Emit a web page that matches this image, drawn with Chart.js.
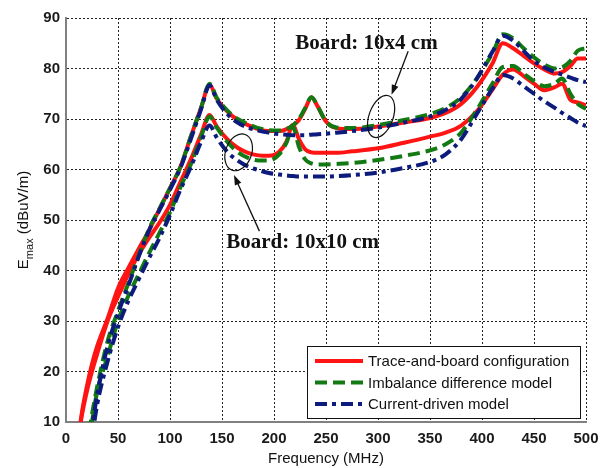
<!DOCTYPE html>
<html>
<head>
<meta charset="utf-8">
<script src="https://cdn.jsdelivr.net/npm/chart.js@4.4.1/dist/chart.umd.min.js"></script>
<style>
  html, body { margin: 0; padding: 0; background: #fff; }
  #wrap { width: 610px; height: 468px; }
</style>
</head>
<body>
<div id="wrap"><canvas id="emaxChart" width="610" height="468"></canvas></div>
<script>
// 주파수 (MHz)
const freq = [10, 15, 20, 25, 30, 40, 50, 60, 70, 80, 90, 100, 110, 120, 130, 138, 145, 155, 165, 175,
  185, 195, 205, 212, 218, 224, 230, 236, 242, 250, 260, 275, 300, 325, 350, 365, 380, 395, 410, 420,
  430, 440, 450, 460, 470, 477, 485, 492, 500];

// Board 10x4 cm
const traceBoard4 = [3, 11.5, 17, 21.5, 25, 30.5, 36.5, 40.5, 44.3, 48, 52.2, 56.3, 60.5, 66.5, 72.3, 76.8, 74, 71.5, 69.8, 68.8,
  68, 67.6, 67.6, 68, 68.7, 69.8, 72, 74.3, 72.5, 69.5, 68.2, 68, 68.5, 69.3, 70.2, 71.2, 73, 76.3, 81, 85,
  84, 82.5, 81, 79.8, 79, 79.3, 80.5, 82, 82];
const imbalance4 = [-6, 0, 5, 11.5, 17, 26, 32, 37.5, 43, 48.3, 52.3, 56.3, 60.5, 66.5, 72.3, 77, 74.2, 71.7, 70, 69,
  68.2, 67.8, 67.7, 68, 68.7, 70, 72.2, 74.3, 72.5, 69.5, 68.3, 68.2, 68.8, 69.8, 71, 72.2, 74.3, 78, 83, 86.8,
  86, 84, 82.2, 80.8, 80, 80.2, 81.5, 83.5, 84];
const current4 = [-8, -1, 3, 9, 15.5, 25, 31.5, 37, 42.8, 48, 52, 56, 60.3, 66, 72, 76.7, 73.8, 71, 69.3, 68.3,
  67.7, 67.3, 67, 66.9, 66.8, 66.8, 66.8, 66.9, 67, 67.1, 67.3, 67.6, 68.3, 69.3, 70.5, 71.8, 74, 78, 83.3, 86.5,
  85.5, 83.5, 81.5, 80.2, 79.3, 78.8, 78.2, 77.7, 77.3];

// Board 10x10 cm
const traceBoard10 = [4, 11, 16, 20, 23.5, 30, 34.8, 39.3, 43.2, 46.5, 49.5, 53, 57.5, 62, 67, 70.8, 68.5, 66, 64.3, 63.3,
  62.8, 62.7, 63.5, 65.5, 68.8, 66, 64, 63.4, 63.3, 63.3, 63.3, 63.6, 64.2, 65.3, 66.5, 67.3, 68.7, 71.5, 75.8, 78.8,
  79.8, 78.5, 77, 75.7, 76.3, 77, 73.8, 73.3, 72.7];
const imbalance10 = [-8, -2, 3, 10, 16, 23, 30, 35, 39.3, 43.5, 47.5, 51.5, 56.5, 61, 66.5, 70.5, 68.3, 65.5, 63.5, 62.3,
  61.8, 61.8, 63, 65.3, 68.5, 64.5, 62, 61.2, 61, 61, 61.1, 61.3, 61.9, 62.7, 63.8, 65, 67.3, 71.8, 77, 80.3,
  80.5, 79, 77.5, 76.5, 77, 78, 75, 73, 72];
const current10 = [-10, -4, 1, 7, 13.5, 22, 28.8, 34, 38.3, 42.5, 46.5, 51, 56, 60.5, 65.5, 68.7, 66.3, 63.5, 61.8, 60.6,
  59.9, 59.3, 59, 58.8, 58.7, 58.6, 58.6, 58.6, 58.6, 58.6, 58.7, 58.9, 59.4, 60.3, 61.5, 63, 66, 71, 76, 78.7,
  78, 76.5, 75, 73.5, 72.2, 71.2, 70.2, 69.3, 68.6];

const legendLabels = ['Trace-and-board configuration', 'Imbalance difference model', 'Current-driven model'];

// 선 스타일
const RED = '#ff1414';
const GREEN = '#137a13';
const BLUE = '#0c1b7c';
const DASH = [12, 6];
const DASH_DOT = [12, 5, 4, 5];

const toPoints = values => freq.map((f, i) => ({ x: f, y: values[i] }));

const lineSet = (label, values, color, dash, order) => ({
  label,
  data: toPoints(values),
  borderColor: color,
  borderDash: dash,
  borderWidth: 4,
  pointRadius: 0,
  cubicInterpolationMode: 'monotone',
  fill: false,
  order
});

// 주석, 범례, y축 제목
const notesPlugin = {
  id: 'boardNotes',
  afterDatasetsDraw(chart) {
    const { ctx, scales: { x, y } } = chart;

    const arrow = (x0, y0, x1, y1) => {
      const px0 = x.getPixelForValue(x0), py0 = y.getPixelForValue(y0);
      const px1 = x.getPixelForValue(x1), py1 = y.getPixelForValue(y1);
      const a = Math.atan2(py1 - py0, px1 - px0);
      ctx.save();
      ctx.strokeStyle = '#111';
      ctx.fillStyle = '#111';
      ctx.lineWidth = 1.3;
      ctx.beginPath();
      ctx.moveTo(px0, py0);
      ctx.lineTo(px1 - 6 * Math.cos(a), py1 - 6 * Math.sin(a));
      ctx.stroke();
      ctx.beginPath();
      ctx.moveTo(px1, py1);
      ctx.lineTo(px1 - 10 * Math.cos(a) + 3.5 * Math.sin(a), py1 - 10 * Math.sin(a) - 3.5 * Math.cos(a));
      ctx.lineTo(px1 - 10 * Math.cos(a) - 3.5 * Math.sin(a), py1 - 10 * Math.sin(a) + 3.5 * Math.cos(a));
      ctx.closePath();
      ctx.fill();
      ctx.restore();
    };

    const ring = (cx, cy, rx, ry, rot) => {
      ctx.save();
      ctx.strokeStyle = '#111';
      ctx.lineWidth = 1.2;
      ctx.beginPath();
      ctx.ellipse(x.getPixelForValue(cx), y.getPixelForValue(cy), rx, ry, rot, 0, Math.PI * 2);
      ctx.stroke();
      ctx.restore();
    };

    const note = (text, fx, fy) => {
      ctx.save();
      ctx.font = 'bold 21px "Liberation Serif", "Times New Roman", serif';
      ctx.fillStyle = '#111';
      ctx.textBaseline = 'alphabetic';
      ctx.fillText(text, x.getPixelForValue(fx), y.getPixelForValue(fy));
      ctx.restore();
    };

    note('Board: 10x4 cm', 220.5, 83.8);
    arrow(329, 83.4, 313, 74.8);
    ring(303, 70.5, 12, 22, 0.35);

    note('Board: 10x10 cm', 154, 44.4);
    arrow(186, 47.8, 161.5, 58.9);
    ring(166, 63.4, 13, 19, 0.35);

    // 범례
    const box = { left: 307, top: 346, width: 273, height: 72 };
    ctx.save();
    ctx.fillStyle = '#fff';
    ctx.fillRect(box.left, box.top, box.width, box.height);
    ctx.strokeStyle = '#111';
    ctx.lineWidth = 1;
    ctx.strokeRect(box.left + 0.5, box.top + 0.5, box.width, box.height);
    const sets = chart.data.datasets;
    legendLabels.forEach((label, i) => {
      const ds = sets[i];
      const ly = box.top + 15 + i * 21.5;
      ctx.strokeStyle = ds.borderColor;
      ctx.lineWidth = 4;
      ctx.setLineDash(ds.borderDash || []);
      ctx.beginPath();
      ctx.moveTo(box.left + 8, ly);
      ctx.lineTo(box.left + 56, ly);
      ctx.stroke();
      ctx.setLineDash([]);
      ctx.fillStyle = '#111';
      ctx.font = '15px "Liberation Sans", Arial, sans-serif';
      ctx.textBaseline = 'middle';
      ctx.fillText(label, box.left + 61, ly + 1);
    });
    ctx.restore();
  },
  afterDraw(chart) {
    const { ctx, chartArea } = chart;
    // E_max (dBuV/m) 세로 제목
    ctx.save();
    ctx.translate(24, (chartArea.top + chartArea.bottom) / 2);
    ctx.rotate(-Math.PI / 2);
    ctx.fillStyle = '#111';
    ctx.textBaseline = 'middle';
    const big = '15px "Liberation Sans", Arial, sans-serif';
    const small = '11px "Liberation Sans", Arial, sans-serif';
    ctx.font = big;
    const wE = ctx.measureText('E').width;
    const wRest = ctx.measureText(' (dBuV/m)').width;
    ctx.font = small;
    const wSub = ctx.measureText('max').width;
    let cx = -(wE + wSub + wRest) / 2;
    ctx.font = big;
    ctx.fillText('E', cx, 0);
    cx += wE;
    ctx.font = small;
    ctx.fillText('max', cx, 6);
    cx += wSub;
    ctx.font = big;
    ctx.fillText(' (dBuV/m)', cx, 0);
    ctx.restore();
  }
};

const tickFont = { family: '"Liberation Sans", Arial, sans-serif', size: 15, weight: 'bold' };

new Chart(document.getElementById('emaxChart').getContext('2d'), {
  type: 'line',
  data: {
    datasets: [
      lineSet('Trace-and-board configuration', traceBoard4, RED, [], 3),
      lineSet('Imbalance difference model', imbalance4, GREEN, DASH, 2),
      lineSet('Current-driven model', current4, BLUE, DASH_DOT, 1),
      lineSet('Trace-and-board configuration', traceBoard10, RED, [], 3),
      lineSet('Imbalance difference model', imbalance10, GREEN, DASH, 2),
      lineSet('Current-driven model', current10, BLUE, DASH_DOT, 1)
    ]
  },
  options: {
    responsive: false,
    animation: false,
    devicePixelRatio: 1,
    layout: { padding: { top: 18, right: 24, left: 0, bottom: 0 } },
    plugins: {
      legend: { display: false },
      tooltip: { enabled: false }
    },
    scales: {
      x: {
        type: 'linear',
        min: 0,
        max: 500,
        ticks: { stepSize: 50, color: '#1a1a1a', font: tickFont, padding: 8 },
        grid: { color: '#222', lineWidth: 1, drawTicks: false },
        border: { color: '#808080', width: 2, dash: [2, 2] },
        title: {
          display: true,
          text: 'Frequency (MHz)',
          color: '#111',
          font: { family: '"Liberation Sans", Arial, sans-serif', size: 15 },
          padding: { top: 0, bottom: 0 }
        },
        afterFit: s => { s.height = 46; }
      },
      y: {
        min: 10,
        max: 90,
        ticks: { stepSize: 10, color: '#1a1a1a', font: tickFont, padding: 6 },
        grid: { color: '#222', lineWidth: 1, drawTicks: false },
        border: { color: '#808080', width: 2, dash: [2, 2] },
        afterFit: s => { s.width = 66; }
      }
    }
  },
  plugins: [notesPlugin]
});
</script>
</body>
</html>
